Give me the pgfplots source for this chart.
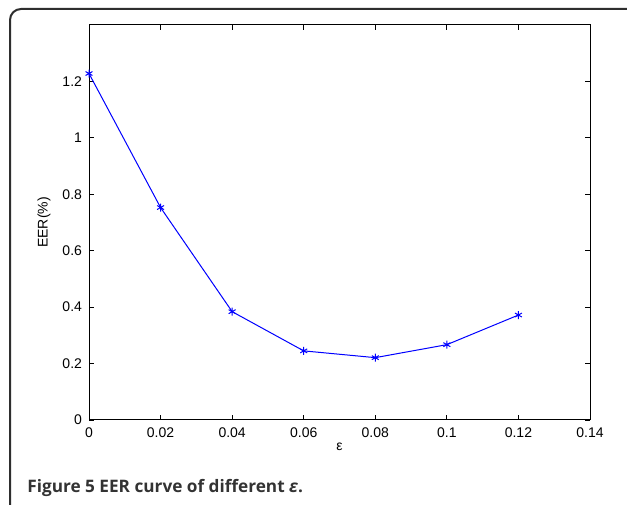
\documentclass[border=0pt]{standalone}
\usepackage{fontspec}
\setmainfont{Liberation Sans}
\newfontfamily\capfont{Open Sans}
\usepackage{pgfplots}
\pgfplotsset{compat=1.18}
\definecolor{framegray}{HTML}{2E2E2E}
\definecolor{capgray}{HTML}{333333}

\begin{document}
\begin{tikzpicture}
% picture area: 627 x 504 px at 0.5pt per px
\useasboundingbox (0pt,0pt) rectangle (313.5pt,252pt);
\begin{scope}
\clip (0pt,0pt) rectangle (313.5pt,252pt);
\draw[framegray, line width=1pt, rounded corners=5.5pt]
  (5pt,-5pt) -- (5pt,247.5pt) -- (320pt,247.5pt);
\end{scope}

\begin{axis}[
    at={(44.5pt,42pt)}, anchor=south west,
    scale only axis,
    width=250.5pt, height=197.5pt,
    xmin=0, xmax=0.14, ymin=0, ymax=1.4,
    xtick={0,0.02,0.04,0.06,0.08,0.1,0.12,0.14},
    xticklabels={0,0.02,0.04,0.06,0.08,0.1,0.12,0.14},
    ytick={0,0.2,0.4,0.6,0.8,1,1.2},
    yticklabels={0,0.2,0.4,0.6,0.8,1,1.2},
    tick align=inside,
    major tick length=2.5pt,
    axis line style={line width=0.5pt},
    every tick/.style={black, line width=0.4pt},
    tick label style={font=\fontsize{7}{8}\selectfont},
    xticklabel style={yshift=-0.5pt},
    label style={font=\fontsize{7}{8}\selectfont},
    xlabel={ε},
    ylabel={EER(\%)},
    xlabel style={at={(axis description cs:0.5,-0.068)}, anchor=center},
    ylabel style={at={(axis description cs:-0.09,0.5)}, anchor=center},
    /pgf/number format/assume math mode=true,
]
\addplot[blue, line width=0.5pt, mark=asterisk, mark size=2pt,
         mark options={line width=0.5pt}]
  coordinates {
    (0,1.228)
    (0.02,0.753)
    (0.04,0.384)
    (0.06,0.245)
    (0.08,0.221)
    (0.10,0.267)
    (0.12,0.372)
  };
\end{axis}

\node[anchor=base west, inner sep=0pt, text=capgray,
      font=\capfont\bfseries\fontsize{8.6}{10}\selectfont]
  at (13.5pt,5.5pt) {Figure 5 EER curve of different \emph{ε}.};
\end{tikzpicture}
\end{document}
